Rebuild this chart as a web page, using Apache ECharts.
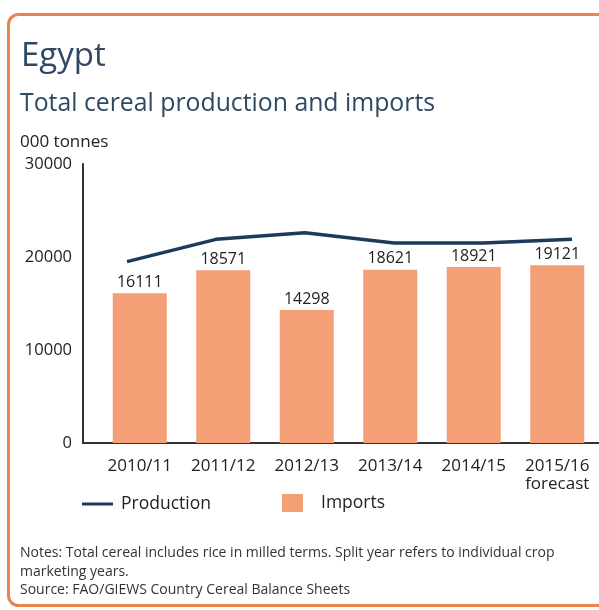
<!DOCTYPE html>
<html>
<head>
<meta charset="utf-8">
<script src="https://cdn.jsdelivr.net/npm/echarts@6/dist/echarts.min.js"></script>
<style>
html,body{margin:0;padding:0;background:#fff;}
#c{width:599px;height:610px;}
</style>
</head>
<body>
<div id="c"></div>
<script>
var categories = ['2010/11', '2011/12', '2012/13', '2013/14', '2014/15', '2015/16\nforecast'];
var imports = [16111, 18571, 14298, 18621, 18921, 19121];
var production = [19500, 21900, 22600, 21500, 21500, 21900];
var yTicks = { min: 0, max: 30000, interval: 10000 };

var FONT = '"Open Sans", sans-serif';
var chart = echarts.init(document.getElementById('c'), null, { renderer: 'canvas' });
chart.setOption({
  backgroundColor: '#ffffff',
  animation: false,
  graphic: [{
    type: 'rect', z: -10,
    shape: { x: 8.5, y: 14.5, width: 640, height: 591, r: 10 },
    style: { fill: '#ffffff', stroke: '#e9844c', lineWidth: 3 }
  }],
  title: [
    { text: 'Egypt', left: 16, top: 35, textStyle: { fontFamily: FONT, fontSize: 33, fontWeight: 'normal', color: '#2f4864' } },
    { text: 'Total cereal production and imports', left: 15, top: 86, textStyle: { fontFamily: FONT, fontSize: 24.8, fontWeight: 'normal', color: '#2f4864' } },
    { text: '000 tonnes', left: 15, top: 129, textStyle: { fontFamily: FONT, fontSize: 17, fontWeight: 'normal', color: '#222' } },
    { text: 'Notes: Total cereal includes rice in milled terms. Split year refers to individual crop\nmarketing years.\nSource: FAO/GIEWS Country Cereal Balance Sheets',
      left: 15, top: 539, textStyle: { fontFamily: FONT, fontSize: 14, lineHeight: 18.5, fontWeight: 'normal', color: '#333' } }
  ],
  legend: [
    { data: ['Production'], left: 77, top: 490, icon: 'rect', itemWidth: 31, itemHeight: 3, itemGap: 0,
      textStyle: { fontFamily: FONT, fontSize: 17.5, color: '#222', padding: [0, 0, 0, 3] } },
    { data: ['Imports'], left: 277, top: 489, icon: 'rect', itemWidth: 21, itemHeight: 18,
      textStyle: { fontFamily: FONT, fontSize: 17.5, color: '#222', padding: [0, 0, 0, 13] } }
  ],
  grid: [
    { left: 98, right: -4, top: 164, bottom: 167, containLabel: false },
    { left: 83, right: 0, top: 164, bottom: 167, containLabel: false },
    { left: 127, right: 27, top: 164, bottom: 167, containLabel: false }
  ],
  xAxis: [
    { type: 'category', gridIndex: 0, data: categories, boundaryGap: true,
      axisLine: { show: true, lineStyle: { color: '#333', width: 2 } },
      axisTick: { show: false },
      axisLabel: { fontFamily: FONT, fontSize: 17, color: '#222', margin: 14, lineHeight: 18, interval: 0 } },
    { type: 'value', gridIndex: 1, min: 0, max: 1,
      axisLine: { show: true, onZero: false, lineStyle: { color: '#333', width: 2 } },
      axisTick: { show: false }, axisLabel: { show: false }, splitLine: { show: false } },
    { type: 'category', gridIndex: 2, data: categories, boundaryGap: false, show: false }
  ],
  yAxis: [
    { type: 'value', gridIndex: 0, min: yTicks.min, max: yTicks.max, interval: yTicks.interval, offset: 15,
      axisLine: { show: true, lineStyle: { color: '#333', width: 2 } },
      axisTick: { show: false },
      splitLine: { show: false },
      axisLabel: { fontFamily: FONT, fontSize: 16.5, color: '#222', margin: 11, formatter: function (v) { return String(v); } } },
    { type: 'value', gridIndex: 1, min: 0, max: 1, show: false },
    { type: 'value', gridIndex: 2, min: yTicks.min, max: yTicks.max, interval: yTicks.interval, show: false }
  ],
  series: [
    { name: 'Imports', type: 'bar', xAxisIndex: 0, yAxisIndex: 0, data: imports, barWidth: 54,
      itemStyle: { color: '#f49f75' },
      label: { show: true, position: 'top', distance: 3, fontFamily: FONT, fontSize: 16, color: '#222' } },
    { name: 'Production', type: 'line', xAxisIndex: 2, yAxisIndex: 2, data: production,
      symbol: 'none', lineStyle: { color: '#1d3a5c', width: 3.5 }, itemStyle: { color: '#1d3a5c' }, z: 5 }
  ]
});
</script>
</body>
</html>
